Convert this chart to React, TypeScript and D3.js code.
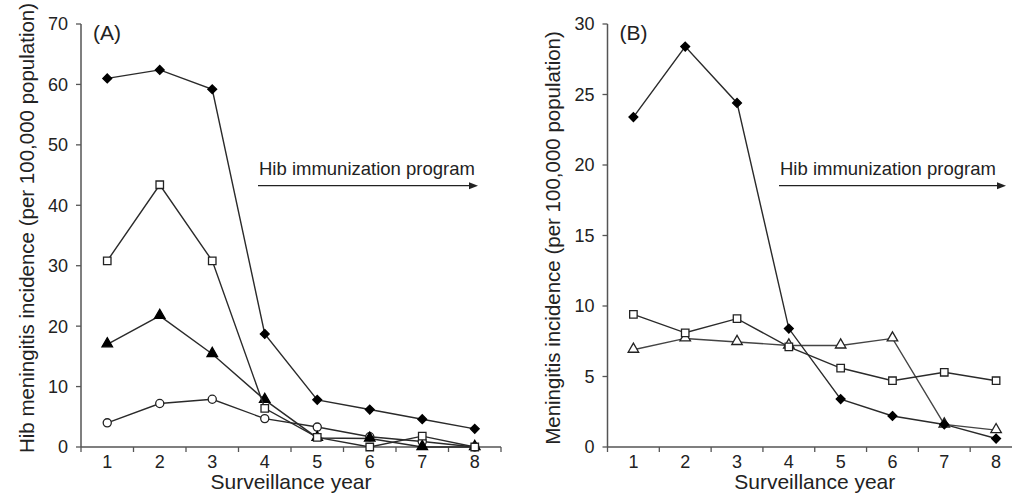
import React from 'react';
import * as d3 from 'd3';

const years = ['1', '2', '3', '4', '5', '6', '7', '8'];

// Panel A values (Hib meningitis incidence)
const aDiamond = [61.0, 62.4, 59.2, 18.7, 7.8, 6.2, 4.6, 3.0];
const aSquare = [30.8, 43.4, 30.8, 6.4, 1.6, 0.0, 1.8, 0.0];
const aTriangle = [17.0, 21.7, 15.4, 7.8, 1.5, 1.4, 0.0, 0.0];
const aCircle = [4.0, 7.2, 7.9, 4.7, 3.3, 1.7, 0.9, 0.0];
const aTicks = [0, 10, 20, 30, 40, 50, 60, 70];

// Panel B values (meningitis incidence)
const bDiamond = [23.4, 28.4, 24.4, 8.4, 3.4, 2.2, 1.6, 0.6];
const bSquare = [9.4, 8.1, 9.1, 7.1, 5.6, 4.7, 5.3, 4.7];
const bTriangle = [6.9, 7.7, 7.45, 7.2, 7.2, 7.7, 1.6, 1.2];
const bTicks = [0, 5, 10, 15, 20, 25, 30];

const FONT = '"Liberation Sans", Arial, sans-serif';
const INK = '#222';
const AXIS = '#555';

type Marker = 'diamond' | 'square' | 'triangle' | 'circle' | 'triangleOpen';

interface Series {
  values: number[];
  marker: Marker;
  stroke?: string;
}

const symbolFor = (m: Marker) => {
  if (m === 'diamond') return d3.symbol(d3.symbolDiamond2, 50)();
  if (m === 'square') return d3.symbol(d3.symbolSquare, 56)();
  if (m === 'circle') return d3.symbol(d3.symbolCircle, 52)();
  return d3.symbol(d3.symbolTriangle, 48)();
};

interface PanelProps {
  left: number;
  right: number;
  top: number;
  bottom: number;
  yMax: number;
  ticks: number[];
  series: Series[];
  label: string;
  yTitle: string;
  yTitleX: number;
  yTitleY: number;
  arrowFrom: number;
  arrowTo: number;
}

const Panel: React.FC<PanelProps> = ({
  left, right, top, bottom, yMax, ticks, series, label, yTitle, yTitleX, yTitleY, arrowFrom, arrowTo
}) => {
  const x = d3.scaleBand<string>().domain(years).range([left, right]).padding(0);
  const y = d3.scaleLinear().domain([0, yMax]).range([bottom, top]);
  const cx = (d: string) => (x(d) as number) + x.bandwidth() / 2;
  const line = d3.line<number>().x((_, i) => cx(years[i])).y(v => y(v));
  const bounds = [...years.map(d => x(d) as number), right];
  const arrowY = 185.7;

  return (
    <g>
      {/* y axis */}
      <line x1={left} x2={left} y1={top} y2={bottom} stroke={AXIS} strokeWidth={1.5} />
      {ticks.map(t => (
        <g key={t}>
          <line x1={left - 5} x2={left} y1={y(t)} y2={y(t)} stroke={AXIS} strokeWidth={1.3} />
          <text x={left - 13} y={y(t)} dy="0.36em" textAnchor="end" fontSize={18} fill={INK} fontFamily={FONT}>{t}</text>
        </g>
      ))}
      {/* x axis */}
      <line x1={left} x2={right} y1={bottom} y2={bottom} stroke={AXIS} strokeWidth={1.5} />
      {bounds.map((b, i) => (
        <line key={i} x1={b} x2={b} y1={bottom} y2={bottom + 5} stroke={AXIS} strokeWidth={1.3} />
      ))}
      {years.map(d => (
        <text key={d} x={cx(d)} y={bottom + 21} textAnchor="middle" fontSize={18} fill={INK} fontFamily={FONT}>{d}</text>
      ))}
      <text x={(cx(years[0]) + cx(years[7])) / 2} y={bottom + 42} textAnchor="middle" fontSize={21} fill={INK} fontFamily={FONT}>Surveillance year</text>
      <text transform={`translate(${yTitleX},${yTitleY}) rotate(-90)`} textAnchor="middle" dy="0.35em" fontSize={20.5} fill={INK} fontFamily={FONT}>{yTitle}</text>
      <text x={left + 12} y={top + 16} fontSize={21} fill={INK} fontFamily={FONT}>{label}</text>

      {/* arrow annotation */}
      <text x={arrowFrom + 1} y={arrowY - 11} fontSize={18.5} fill={INK} fontFamily={FONT}>Hib immunization program</text>
      <line x1={arrowFrom} x2={arrowTo - 8} y1={arrowY} y2={arrowY} stroke={INK} strokeWidth={1.3} />
      <path d={`M${arrowTo},${arrowY} L${arrowTo - 9},${arrowY - 3.5} L${arrowTo - 9},${arrowY + 3.5} Z`} fill={INK} />

      {/* series */}
      {series.map((s, si) => (
        <g key={si}>
          <path d={line(s.values) || ''} fill="none" stroke={s.stroke || '#2a2a2a'} strokeWidth={1.4} />
          {s.values.map((v, i) => {
            const filled = s.marker === 'diamond' || s.marker === 'triangle';
            const dy = s.marker === 'triangle' || s.marker === 'triangleOpen' ? -0.5 : 0;
            return (
              <path
                key={i}
                d={symbolFor(s.marker) || ''}
                transform={`translate(${cx(years[i])},${y(v) + dy})`}
                fill={filled ? '#000' : '#fff'}
                stroke={filled ? '#000' : '#222'}
                strokeWidth={1.3}
              />
            );
          })}
        </g>
      ))}
    </g>
  );
};

const App: React.FC = () => {
  const seriesA: Series[] = [
    { values: aCircle, marker: 'circle' },
    { values: aTriangle, marker: 'triangle' },
    { values: aSquare, marker: 'square' },
    { values: aDiamond, marker: 'diamond' },
  ];
  const seriesB: Series[] = [
    { values: bTriangle, marker: 'triangleOpen', stroke: '#444' },
    { values: bSquare, marker: 'square' },
    { values: bDiamond, marker: 'diamond' },
  ];

  return (
    <svg
      width={1012}
      height={501}
      style={{ position: 'absolute', left: 0, top: 0, background: '#fff' }}
    >
      <rect width={1012} height={501} fill="#fff" />
      <Panel
        left={81} right={501} top={24} bottom={447} yMax={70} ticks={aTicks}
        series={seriesA} label="(A)"
        yTitle="Hib meningitis incidence (per 100,000 population)" yTitleX={27} yTitleY={228}
        arrowFrom={258} arrowTo={478}
      />
      <Panel
        left={607.5} right={1022} top={24} bottom={447} yMax={30} ticks={bTicks}
        series={seriesB} label="(B)"
        yTitle="Meningitis incidence (per 100,000 population)" yTitleX={553} yTitleY={238}
        arrowFrom={779} arrowTo={1006}
      />
    </svg>
  );
};

export default App;
